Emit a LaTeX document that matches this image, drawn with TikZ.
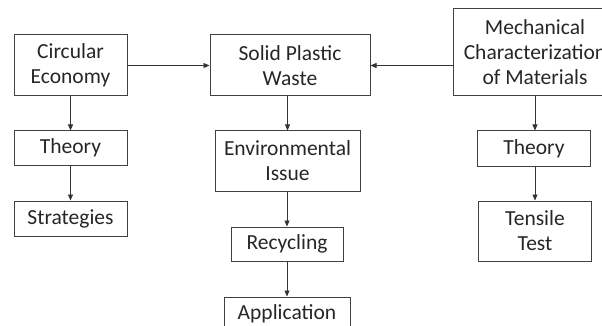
\documentclass[tikz,border=0pt]{standalone}
\usepackage{fontspec}
\setmainfont{Carlito}
\usetikzlibrary{arrows.meta}
\tikzset{
  box/.style={draw=black!75, line width=1pt, inner sep=0pt, align=center,
    text=black!85, font=\fontsize{21.5}{25}\selectfont},
  arr/.style={draw=black!80, line width=0.8pt, -{Triangle[length=6pt,width=5pt]}}
}
\begin{document}
\begin{tikzpicture}[x=1pt,y=-1pt]
\useasboundingbox (0,0) rectangle (602,326);
\clip (0,0) rectangle (602,326);
\node[box, minimum width=113pt, minimum height=61pt] (ce) at (70.5,65.5) {Circular\\Economy};
\node[box, minimum width=160pt, minimum height=61pt] (spw) at (290,65.5) {Solid Plastic\\Waste};
\node[box, minimum width=164pt, minimum height=87pt] (mc) at (535,52.5) {Mechanical\\Characterization\\of Materials};
\node[box, minimum width=113pt, minimum height=34pt] (th1) at (70.5,148) {Theory};
\node[box, minimum width=113pt, minimum height=35pt] (st) at (70.5,218.5) {Strategies};
\node[box, minimum width=145pt, minimum height=60pt] (env) at (287.5,161) {Environmental\\Issue};
\node[box, minimum width=112pt, minimum height=34pt] (rec) at (287,244) {Recycling};
\node[box, minimum width=126pt, minimum height=34pt] (app) at (287,314) {Application};
\node[box, minimum width=113pt, minimum height=35pt] (th2) at (534,148.5) {Theory};
\node[box, minimum width=113pt, minimum height=60pt] (tt) at (535,231) {Tensile\\Test};
\draw[arr] (ce.east) -- (spw.west);
\draw[arr] (mc.west |- spw.east) -- (spw.east);
\draw[arr] (ce.south) -- (th1.north);
\draw[arr] (th1.south) -- (st.north);
\draw[arr] (spw.south -| env.north) -- (env.north);
\draw[arr] (env.south -| rec.north) -- (rec.north);
\draw[arr] (rec.south) -- (app.north);
\draw[arr] (mc.south) -- (mc.south |- th2.north);
\draw[arr] (th2.south -| mc.south) -- (mc.south |- tt.north);
\end{tikzpicture}
\end{document}
